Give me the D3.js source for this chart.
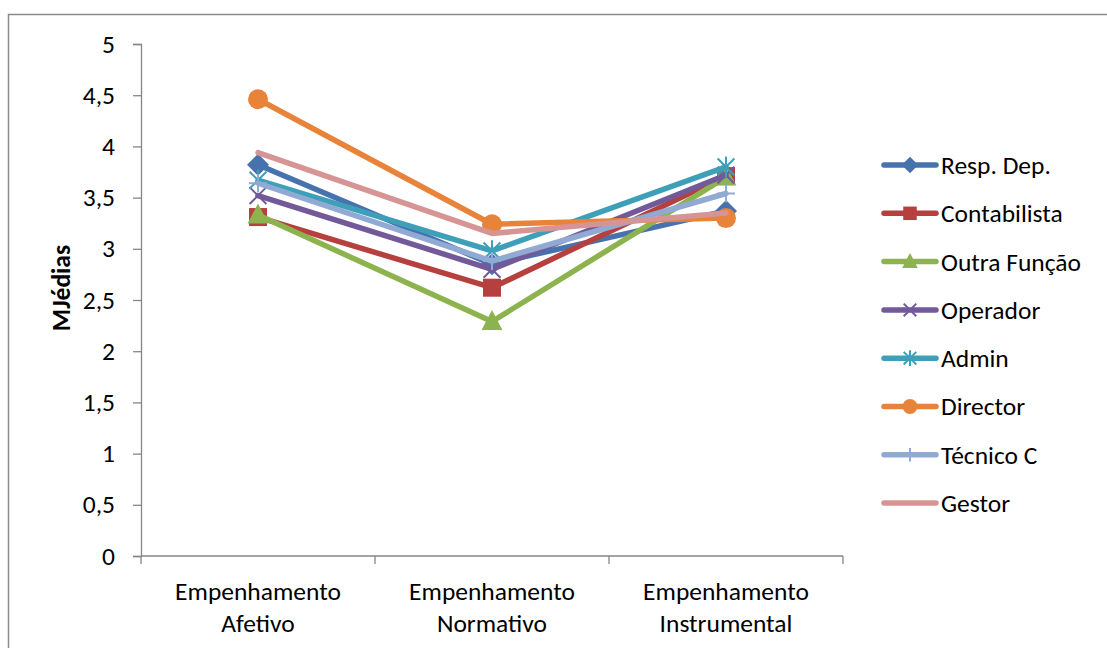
<!DOCTYPE html>
<html>
<head>
<meta charset="utf-8">
<script src="https://cdn.jsdelivr.net/npm/d3@7"></script>
<style>
  html, body { margin: 0; padding: 0; background: #fff; }
  svg { display: block; }
  text { font-family: Carlito, Lato, "Open Sans", sans-serif; fill: #000; }
</style>
</head>
<body>
<svg id="chart" width="1107" height="648"></svg>
<script>
// Categories on the x axis (each label split over two lines)
const categories = ["Empenhamento Afetivo", "Empenhamento Normativo", "Empenhamento Instrumental"];
const categoryLines = [["Empenhamento", "Afetivo"], ["Empenhamento", "Normativo"], ["Empenhamento", "Instrumental"]];

// Mean scores per group, in category order
const seriesNames = ["Resp. Dep.", "Contabilista", "Outra Função", "Operador", "Admin", "Director", "Técnico C", "Gestor"];
const respDep     = [3.82, 2.85, 3.37];
const contabilista = [3.31, 2.62, 3.71];
const outraFuncao = [3.33, 2.29, 3.70];
const operador    = [3.52, 2.80, 3.72];
const admin       = [3.67, 2.98, 3.80];
const director    = [4.46, 3.24, 3.30];
const tecnicoC    = [3.64, 2.88, 3.54];
const gestor      = [3.94, 3.15, 3.35];

const yTicks = [0, 0.5, 1, 1.5, 2, 2.5, 3, 3.5, 4, 4.5, 5];

const seriesValues = [respDep, contabilista, outraFuncao, operador, admin, director, tecnicoC, gestor];
const colors  = ["#4673AE", "#B5403D", "#8DB34F", "#725A9A", "#3E9FB8", "#E8833A", "#91AAD4", "#D69594"];
const markers = ["diamond", "square", "triangle", "x", "star", "circle", "plus", "none"];

const series = seriesNames.map((name, i) => ({ name, values: seriesValues[i], color: colors[i], marker: markers[i] }));

const FONT = 25.5;
const svg = d3.select("#chart");

// Outer chart frame
svg.append("rect")
  .attr("x", 8.5).attr("y", 14.5).attr("width", 1120).attr("height", 660)
  .attr("fill", "none").attr("stroke", "#8a8a8a").attr("stroke-width", 1.5);

const plot = { left: 141, right: 843, top: 44, bottom: 556 };

const x = d3.scaleBand().domain(categories).range([plot.left, plot.right]);
const y = d3.scaleLinear().domain([0, 5]).range([plot.bottom, plot.top]);
const cx = c => x(c) + x.bandwidth() / 2;

const axisColor = "#868686";

// Y axis
const yAxis = svg.append("g")
  .attr("transform", `translate(${plot.left},0)`)
  .call(d3.axisLeft(y).tickValues(yTicks).tickSize(8).tickPadding(18)
    .tickFormat(d => String(d).replace(".", ",")));
yAxis.select(".domain").attr("stroke", axisColor).attr("stroke-width", 1.3);
yAxis.selectAll(".tick line").attr("stroke", axisColor).attr("stroke-width", 1.3);
yAxis.selectAll(".tick text").attr("font-size", FONT).attr("fill", "#000")
  .style("font-family", "Carlito, Lato, 'Open Sans', sans-serif");

// X axis: ticks at category boundaries
const xAxisG = svg.append("g");
xAxisG.append("line")
  .attr("x1", plot.left).attr("x2", plot.right)
  .attr("y1", plot.bottom).attr("y2", plot.bottom)
  .attr("stroke", axisColor).attr("stroke-width", 1.3);
const boundaries = categories.map(c => x(c)).concat([x(categories[categories.length - 1]) + x.bandwidth()]);
xAxisG.selectAll("line.tk").data(boundaries).join("line")
  .attr("class", "tk")
  .attr("x1", d => d).attr("x2", d => d)
  .attr("y1", plot.bottom).attr("y2", plot.bottom + 8)
  .attr("stroke", axisColor).attr("stroke-width", 1.3);
categories.forEach((c, i) => {
  const t = xAxisG.append("text")
    .attr("x", cx(c)).attr("y", 600)
    .attr("text-anchor", "middle").attr("font-size", FONT);
  categoryLines[i].forEach((ln, j) => {
    t.append("tspan").attr("x", cx(c)).attr("dy", j === 0 ? 0 : 32).text(ln);
  });
});

// Y axis title
svg.append("text")
  .attr("transform", "translate(70,288) rotate(-90)")
  .attr("text-anchor", "middle")
  .attr("font-size", FONT).attr("font-weight", "bold")
  .text("MJédias");

// Marker drawing
function drawMarker(g, type, color, size) {
  const s = size;
  switch (type) {
    case "diamond":
      g.append("path").attr("d", `M0,${-s * 0.55}L${s * 0.55},0L0,${s * 0.55}L${-s * 0.55},0Z`).attr("fill", color);
      break;
    case "square":
      g.append("rect").attr("x", -s * 0.45).attr("y", -s * 0.45).attr("width", s * 0.9).attr("height", s * 0.9).attr("fill", color);
      break;
    case "triangle":
      g.append("path").attr("d", `M0,${-s * 0.58}L${s * 0.52},${s * 0.42}L${-s * 0.52},${s * 0.42}Z`).attr("fill", color);
      break;
    case "circle":
      g.append("circle").attr("r", s * 0.5).attr("fill", color);
      break;
    case "x": {
      const h = s * 0.42;
      g.append("path").attr("d", `M${-h},${-h}L${h},${h}M${h},${-h}L${-h},${h}`)
        .attr("stroke", color).attr("stroke-width", 2).attr("fill", "none");
      break;
    }
    case "star": {
      const h = s * 0.42;
      g.append("path").attr("d", `M${-h},${-h}L${h},${h}M${h},${-h}L${-h},${h}M0,${-h * 1.25}L0,${h * 1.25}`)
        .attr("stroke", color).attr("stroke-width", 2).attr("fill", "none");
      break;
    }
    case "plus": {
      const h = s * 0.45;
      g.append("path").attr("d", `M0,${-h}L0,${h}M${-h},0L${h},0`)
        .attr("stroke", color).attr("stroke-width", 2).attr("fill", "none");
      break;
    }
    default:
      break;
  }
}

const line = d3.line().x((d, i) => cx(categories[i])).y(d => y(d));

// Series lines and markers
const seriesG = svg.append("g");
series.forEach(s => {
  const g = seriesG.append("g");
  g.append("path")
    .datum(s.values)
    .attr("d", line)
    .attr("fill", "none")
    .attr("stroke", s.color)
    .attr("stroke-width", 5.5)
    .attr("stroke-linejoin", "round")
    .attr("stroke-linecap", "round");
  s.values.forEach((v, i) => {
    const mg = g.append("g").attr("transform", `translate(${cx(categories[i])},${y(v)})`);
    drawMarker(mg, s.marker, s.color, 20);
  });
});

// Legend
const legend = svg.append("g");
series.forEach((s, i) => {
  const ly = 165 + i * 48.3;
  const g = legend.append("g").attr("transform", `translate(0,${ly})`);
  g.append("line")
    .attr("x1", 884).attr("x2", 936).attr("y1", 0).attr("y2", 0)
    .attr("stroke", s.color).attr("stroke-width", 5.5).attr("stroke-linecap", "round");
  const mg = g.append("g").attr("transform", "translate(910,0)");
  drawMarker(mg, s.marker, s.color, 15);
  g.append("text")
    .attr("x", 941).attr("y", 0).attr("dy", "0.35em")
    .attr("font-size", FONT)
    .text(s.name);
});
</script>
</body>
</html>
